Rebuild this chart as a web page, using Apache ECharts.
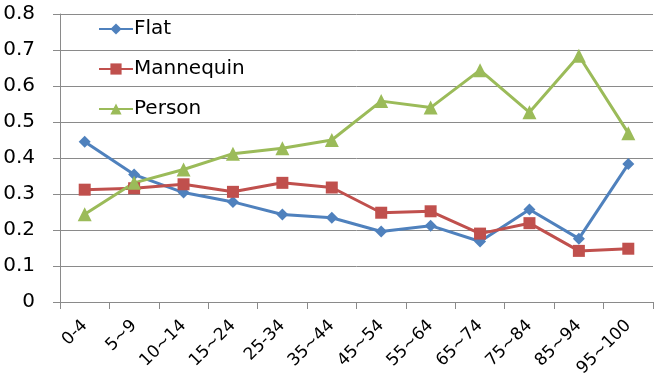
<!DOCTYPE html>
<html>
<head>
<meta charset="utf-8">
<script src="https://cdn.jsdelivr.net/npm/echarts@6/dist/echarts.min.js"></script>
<style>
  html, body { margin: 0; padding: 0; background: #fff; }
  #chart { width: 664px; height: 391px; }
</style>
</head>
<body>
<div id="chart"></div>
<script>
    // age groups
    var categories = ['0-4', '5~9', '10~14', '15~24', '25-34', '35~44', '45~54', '55~64', '65~74', '75~84', '85~94', '95~100'];
    var flat = [0.445, 0.354, 0.304, 0.278, 0.243, 0.234, 0.196, 0.212, 0.168, 0.257, 0.176, 0.383];
    var mannequin = [0.312, 0.316, 0.327, 0.306, 0.331, 0.318, 0.248, 0.252, 0.190, 0.219, 0.142, 0.148];
    var person = [0.244, 0.331, 0.368, 0.412, 0.427, 0.450, 0.558, 0.540, 0.644, 0.527, 0.684, 0.469];

    var gray = '#8a8a8a';
    var font = 'DejaVu Sans';

    var chart = echarts.init(document.getElementById('chart'));
    var option = {
        animation: false,
        grid: {left: 60, right: 11, top: 14, bottom: 89},
        legend: {
            orient: 'vertical', left: 93, top: 14, itemGap: 20,
            itemWidth: 34, itemHeight: 14,
            textStyle: {fontFamily: font, fontSize: 20, color: '#000', padding: [0, 0, 0, -4]},
            data: ['Flat', 'Mannequin', 'Person']
        },
        xAxis: {
            type: 'category', data: categories, boundaryGap: true,
            axisLine: {lineStyle: {color: gray, width: 1}},
            axisTick: {show: true, length: 7, alignWithLabel: false, lineStyle: {color: gray}},
            axisLabel: {rotate: 45, fontFamily: font, fontSize: 17, color: '#000', margin: 21, interval: 0}
        },
        yAxis: {
            type: 'value', min: 0, max: 0.8, interval: 0.1,
            axisLine: {show: true, lineStyle: {color: gray}},
            axisTick: {show: true, length: 7, lineStyle: {color: gray}},
            splitLine: {lineStyle: {color: gray, width: 1}},
            axisLabel: {fontFamily: font, fontSize: 20, color: '#000', margin: 25,
                formatter: function (v) { return v === 0 ? '0' : v.toFixed(1); }}
        },
        series: [
            {name: 'Flat', type: 'line', data: flat, symbol: 'diamond', symbolSize: 12,
                itemStyle: {color: '#4F81BD'}, lineStyle: {width: 3}},
            {name: 'Mannequin', type: 'line', data: mannequin, symbol: 'rect', symbolSize: 12,
                itemStyle: {color: '#C0504D'}, lineStyle: {width: 3}},
            {name: 'Person', type: 'line', data: person, symbol: 'triangle', symbolSize: 14,
                itemStyle: {color: '#9BBB59'}, lineStyle: {width: 3}}
        ]
    };
    chart.setOption(option);
</script>
</body>
</html>
